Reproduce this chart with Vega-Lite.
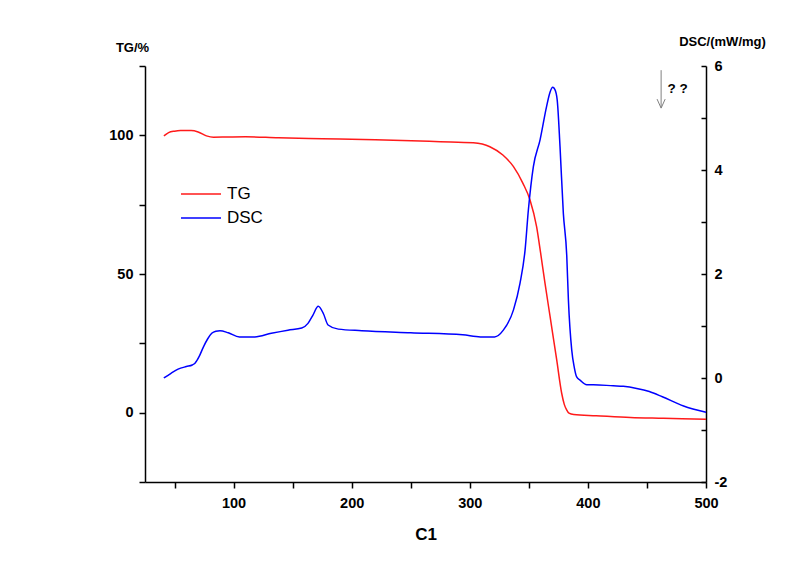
{
  "$schema": "https://vega.github.io/schema/vega-lite/v6.json",
  "width": 561,
  "height": 416,
  "autosize": "none",
  "padding": {"left": 145, "top": 66, "right": 94, "bottom": 82},
  "background": "white",
  "config": {
    "view": {"stroke": null},
    "font": "Liberation Sans",
    "axis": {
      "domainColor": "black",
      "domainWidth": 1.5,
      "tickColor": "black",
      "tickWidth": 1.5,
      "grid": false,
      "labelFont": "Liberation Sans",
      "labelFontWeight": "bold",
      "labelFontSize": 14.5,
      "labelColor": "black",
      "titleFont": "Liberation Sans",
      "titleFontWeight": "bold",
      "titleColor": "black",
      "labelOverlap": false,
      "labelFlush": false
    }
  },
  "datasets": {
    "curves": [
      {"T": 41, "v": 99.8, "s": "TG"},
      {"T": 45, "v": 101.0, "s": "TG"},
      {"T": 50, "v": 101.5, "s": "TG"},
      {"T": 55, "v": 101.7, "s": "TG"},
      {"T": 64, "v": 101.7, "s": "TG"},
      {"T": 70, "v": 101.2, "s": "TG"},
      {"T": 77, "v": 99.8, "s": "TG"},
      {"T": 83, "v": 99.3, "s": "TG"},
      {"T": 95, "v": 99.4, "s": "TG"},
      {"T": 110, "v": 99.5, "s": "TG"},
      {"T": 138, "v": 99.1, "s": "TG"},
      {"T": 175, "v": 98.8, "s": "TG"},
      {"T": 220, "v": 98.4, "s": "TG"},
      {"T": 275, "v": 97.7, "s": "TG"},
      {"T": 303, "v": 97.3, "s": "TG"},
      {"T": 317, "v": 95.9, "s": "TG"},
      {"T": 328, "v": 92.9, "s": "TG"},
      {"T": 337, "v": 88.7, "s": "TG"},
      {"T": 345, "v": 82.7, "s": "TG"},
      {"T": 351, "v": 76.7, "s": "TG"},
      {"T": 356.6, "v": 67.0, "s": "TG"},
      {"T": 360, "v": 57.5, "s": "TG"},
      {"T": 363.7, "v": 46.6, "s": "TG"},
      {"T": 368, "v": 34.6, "s": "TG"},
      {"T": 373.6, "v": 19.0, "s": "TG"},
      {"T": 377.8, "v": 7.0, "s": "TG"},
      {"T": 380, "v": 3.0, "s": "TG"},
      {"T": 382, "v": 1.0, "s": "TG"},
      {"T": 384, "v": -0.2, "s": "TG"},
      {"T": 388, "v": -0.7, "s": "TG"},
      {"T": 407, "v": -1.1, "s": "TG"},
      {"T": 436, "v": -1.7, "s": "TG"},
      {"T": 464, "v": -2.0, "s": "TG"},
      {"T": 500, "v": -2.4, "s": "TG"},
      {"T": 41, "v": 0.0, "s": "DSC"},
      {"T": 47, "v": 0.09, "s": "DSC"},
      {"T": 53, "v": 0.17, "s": "DSC"},
      {"T": 60, "v": 0.22, "s": "DSC"},
      {"T": 65, "v": 0.25, "s": "DSC"},
      {"T": 67.5, "v": 0.29, "s": "DSC"},
      {"T": 71, "v": 0.42, "s": "DSC"},
      {"T": 74.5, "v": 0.6, "s": "DSC"},
      {"T": 78, "v": 0.75, "s": "DSC"},
      {"T": 81.5, "v": 0.86, "s": "DSC"},
      {"T": 85, "v": 0.9, "s": "DSC"},
      {"T": 88.5, "v": 0.91, "s": "DSC"},
      {"T": 95.5, "v": 0.87, "s": "DSC"},
      {"T": 105, "v": 0.79, "s": "DSC"},
      {"T": 118, "v": 0.79, "s": "DSC"},
      {"T": 132, "v": 0.86, "s": "DSC"},
      {"T": 146, "v": 0.92, "s": "DSC"},
      {"T": 157.7, "v": 0.96, "s": "DSC"},
      {"T": 163, "v": 1.05, "s": "DSC"},
      {"T": 167, "v": 1.2, "s": "DSC"},
      {"T": 171.7, "v": 1.38, "s": "DSC"},
      {"T": 176, "v": 1.24, "s": "DSC"},
      {"T": 180, "v": 1.02, "s": "DSC"},
      {"T": 188.7, "v": 0.94, "s": "DSC"},
      {"T": 208.5, "v": 0.91, "s": "DSC"},
      {"T": 250, "v": 0.87, "s": "DSC"},
      {"T": 294, "v": 0.83, "s": "DSC"},
      {"T": 309, "v": 0.79, "s": "DSC"},
      {"T": 321, "v": 0.79, "s": "DSC"},
      {"T": 328.4, "v": 0.92, "s": "DSC"},
      {"T": 337, "v": 1.31, "s": "DSC"},
      {"T": 342.5, "v": 1.82, "s": "DSC"},
      {"T": 346.8, "v": 2.46, "s": "DSC"},
      {"T": 349.6, "v": 3.23, "s": "DSC"},
      {"T": 353.8, "v": 4.06, "s": "DSC"},
      {"T": 359.5, "v": 4.58, "s": "DSC"},
      {"T": 365, "v": 5.22, "s": "DSC"},
      {"T": 368, "v": 5.5, "s": "DSC"},
      {"T": 370.2, "v": 5.59, "s": "DSC"},
      {"T": 372, "v": 5.55, "s": "DSC"},
      {"T": 374, "v": 5.35, "s": "DSC"},
      {"T": 376.4, "v": 4.45, "s": "DSC"},
      {"T": 379.2, "v": 3.17, "s": "DSC"},
      {"T": 382.1, "v": 2.35, "s": "DSC"},
      {"T": 383.5, "v": 1.5, "s": "DSC"},
      {"T": 386.3, "v": 0.54, "s": "DSC"},
      {"T": 388.5, "v": 0.2, "s": "DSC"},
      {"T": 390.5, "v": 0.02, "s": "DSC"},
      {"T": 393.3, "v": -0.04, "s": "DSC"},
      {"T": 399, "v": -0.13, "s": "DSC"},
      {"T": 404.6, "v": -0.13, "s": "DSC"},
      {"T": 421.5, "v": -0.15, "s": "DSC"},
      {"T": 430, "v": -0.16, "s": "DSC"},
      {"T": 441.3, "v": -0.2, "s": "DSC"},
      {"T": 452, "v": -0.26, "s": "DSC"},
      {"T": 463, "v": -0.36, "s": "DSC"},
      {"T": 481, "v": -0.54, "s": "DSC"},
      {"T": 500, "v": -0.66, "s": "DSC"}
    ],
    "note": [{"text": "? ?"}]
  },
  "layer": [
    {
      "data": {"name": "curves"},
      "transform": [{"filter": "datum.s === 'TG'"}],
      "mark": {"type": "line", "interpolate": "monotone", "strokeWidth": 1.5},
      "encoding": {
        "x": {
          "field": "T", "type": "quantitative",
          "scale": {"domain": [25, 500], "nice": false, "zero": false},
          "axis": {
            "title": "C1",
            "titleFontSize": 17,
            "titleBaseline": "alphabetic",
            "titleY": 57,
            "values": [50, 100, 150, 200, 250, 300, 350, 400, 450, 500],
            "labelExpr": "datum.value % 100 === 0 ? datum.label : ''",
            "tickSize": 6,
            "labelPadding": 8
          }
        },
        "y": {
          "field": "v", "type": "quantitative",
          "scale": {"domain": [-25, 125], "nice": false, "zero": false},
          "axis": {
            "orient": "left",
            "title": "TG/%",
            "titleAngle": 0,
            "titleFontSize": 13,
            "titleAlign": "center",
            "titleBaseline": "alphabetic",
            "titleX": -13,
            "titleY": -15,
            "values": [-25, 0, 25, 50, 75, 100, 125],
            "labelExpr": "datum.value % 50 === 0 ? datum.label : ''",
            "tickSize": 6,
            "labelPadding": 6
          }
        },
        "color": {
          "field": "s", "type": "nominal",
          "scale": {"domain": ["TG", "DSC"], "range": ["#ff1a1a", "#0000ff"]},
          "legend": {
            "orient": "none",
            "legendX": 45,
            "legendY": 117,
            "title": null,
            "symbolType": "M-2,0L2,0",
            "symbolSize": 400,
            "symbolStrokeWidth": 1.5,
            "labelFontSize": 17,
            "labelFont": "Liberation Sans",
            "labelColor": "black",
            "labelOffset": 15,
            "rowPadding": 5
          }
        }
      }
    },
    {
      "data": {"name": "curves"},
      "transform": [{"filter": "datum.s === 'DSC'"}],
      "mark": {"type": "line", "interpolate": "monotone", "strokeWidth": 1.5},
      "encoding": {
        "x": {"field": "T", "type": "quantitative"},
        "y": {
          "field": "v", "type": "quantitative",
          "scale": {"domain": [-2, 6], "nice": false, "zero": false},
          "axis": {
            "orient": "right",
            "title": "DSC/(mW/mg)",
            "titleAngle": 0,
            "titleFontSize": 13,
            "titleAlign": "center",
            "titleBaseline": "alphabetic",
            "titleX": 16,
            "titleY": -21,
            "values": [-2, -1, 0, 1, 2, 3, 4, 5, 6],
            "labelExpr": "datum.value % 2 === 0 ? replace(datum.label, '\u2212', '-') : ''",
            "tickSize": -5,
            "labelPadding": 13
          }
        },
        "color": {"field": "s", "type": "nominal"}
      }
    },
    {
      "data": {"name": "note"},
      "mark": {"type": "rule", "color": "#808080", "strokeWidth": 1},
      "encoding": {
        "x": {"datum": 462, "type": "quantitative"},
        "y": {"datum": 5.92, "type": "quantitative", "scale": {"domain": [-2, 6], "nice": false, "zero": false}, "axis": null},
        "y2": {"datum": 5.2}
      }
    },
    {
      "data": {"name": "note"},
      "mark": {"type": "point", "shape": "M-0.45,-1L0,0L0.45,-1", "filled": false, "color": "#808080", "strokeWidth": 1, "size": 324, "opacity": 1},
      "encoding": {
        "x": {"datum": 462, "type": "quantitative"},
        "y": {"datum": 5.19, "type": "quantitative", "scale": {"domain": [-2, 6], "nice": false, "zero": false}, "axis": null}
      }
    },
    {
      "data": {"name": "note"},
      "mark": {"type": "text", "align": "left", "baseline": "middle", "fontSize": 13.5, "fontWeight": "bold", "font": "Liberation Sans", "color": "black"},
      "encoding": {
        "x": {"datum": 467.5, "type": "quantitative"},
        "y": {"datum": 5.56, "type": "quantitative", "scale": {"domain": [-2, 6], "nice": false, "zero": false}, "axis": null},
        "text": {"field": "text"}
      }
    }
  ],
  "resolve": {"scale": {"y": "independent"}, "axis": {"y": "independent"}}
}
